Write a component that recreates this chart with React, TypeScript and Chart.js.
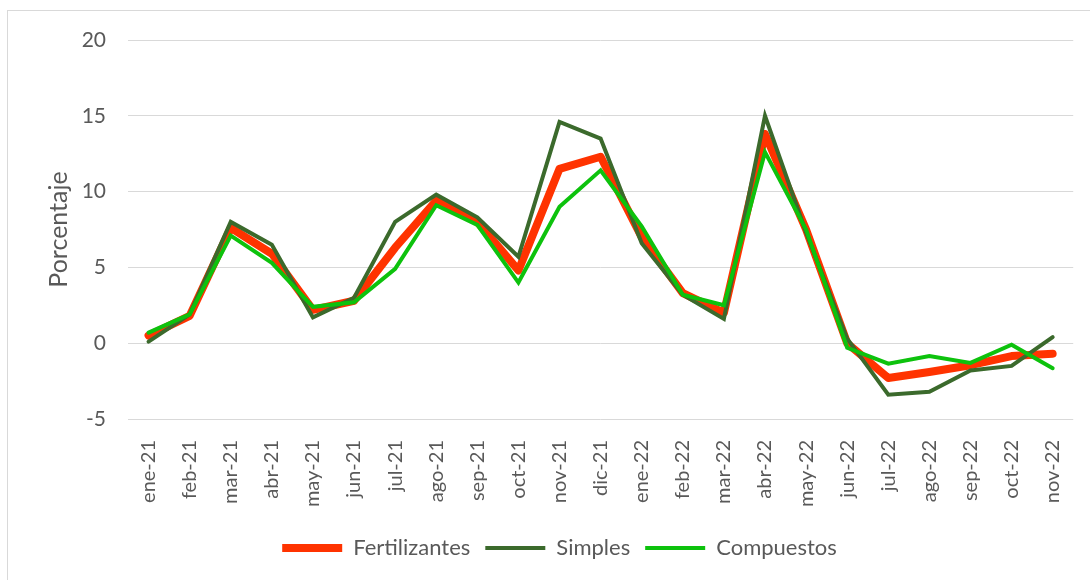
import React, { useEffect, useRef } from "react";
import { Chart, registerables } from "chart.js";

Chart.register(...registerables);

const categories = [
  "ene-21", "feb-21", "mar-21", "abr-21", "may-21", "jun-21", "jul-21", "ago-21",
  "sep-21", "oct-21", "nov-21", "dic-21", "ene-22", "feb-22", "mar-22", "abr-22",
  "may-22", "jun-22", "jul-22", "ago-22", "sep-22", "oct-22", "nov-22",
];

const fertilizantes = [0.5, 1.8, 7.6, 5.9, 2.2, 2.8, 6.3, 9.4, 8.0, 4.8, 11.5, 12.3, 7.0, 3.3, 2.0, 13.8, 7.5, 0.0, -2.3, -1.9, -1.45, -0.85, -0.7];
const simples = [0.1, 1.9, 8.0, 6.5, 1.7, 3.0, 8.0, 9.8, 8.3, 5.7, 14.6, 13.5, 6.6, 3.2, 1.6, 15.0, 7.3, 0.3, -3.4, -3.2, -1.8, -1.5, 0.4];
const compuestos = [0.7, 1.9, 7.1, 5.3, 2.4, 2.7, 4.9, 9.1, 7.8, 4.0, 9.0, 11.4, 7.7, 3.2, 2.5, 12.6, 7.5, -0.3, -1.35, -0.85, -1.3, -0.1, -1.65];

const yMin = -5;
const yMax = 20;
const yStep = 5;

const FONT = "Lato, 'Open Sans', sans-serif";
const TEXT = "#595959";

export default function App() {
  const ref = useRef<HTMLCanvasElement | null>(null);

  useEffect(() => {
    if (!ref.current) return;
    const chart = new Chart(ref.current, {
      type: "line",
      data: {
        labels: categories,
        datasets: [
          {
            label: "Fertilizantes",
            data: fertilizantes,
            borderColor: "#FF3300",
            backgroundColor: "#FF3300",
            borderWidth: 8,
            borderCapStyle: "round",
            borderJoinStyle: "round",
            pointRadius: 0,
            order: 3,
          },
          {
            label: "Simples",
            data: simples,
            borderColor: "#3B6A2C",
            backgroundColor: "#3B6A2C",
            borderWidth: 4,
            borderCapStyle: "round",
            pointRadius: 0,
            order: 2,
          },
          {
            label: "Compuestos",
            data: compuestos,
            borderColor: "#0DC20D",
            backgroundColor: "#0DC20D",
            borderWidth: 4,
            borderCapStyle: "round",
            pointRadius: 0,
            order: 1,
          },
        ],
      },
      options: {
        animation: false,
        responsive: false,
        layout: { padding: { left: 44, right: 15, top: 40, bottom: 11 } },
        plugins: {
          tooltip: { enabled: false },
          legend: {
            position: "bottom",
            labels: {
              usePointStyle: true,
              pointStyle: "line",
              pointStyleWidth: 60,
              boxHeight: 8,
              padding: 15,
              color: TEXT,
              font: { family: FONT, size: 22 },
              sort: (a: any, b: any) => a.datasetIndex - b.datasetIndex,
            },
          },
        },
        scales: {
          x: {
            offset: true,
            grid: { display: false },
            border: { display: false },
            ticks: {
              maxRotation: 90,
              minRotation: 90,
              autoSkip: false,
              padding: 13,
              color: TEXT,
              font: { family: FONT, size: 20 },
            },
            afterFit: (scale: any) => {
              scale.height = 103;
            },
          },
          y: {
            min: yMin,
            max: yMax,
            grid: { color: "#D9D9D9", lineWidth: 1, drawTicks: false },
            border: { display: false },
            ticks: {
              stepSize: yStep,
              padding: 22,
              color: TEXT,
              font: { family: FONT, size: 21 },
            },
            title: {
              display: true,
              text: "Porcentaje",
              color: TEXT,
              font: { family: FONT, size: 25 },
              padding: { top: 0, bottom: 0 },
            },
            afterFit: (scale: any) => {
              scale.width = 84;
            },
          },
        },
      },
    });
    return () => chart.destroy();
  }, []);

  return (
    <div style={{ position: "fixed", left: 0, top: 0, width: 1090, height: 580, overflow: "hidden", background: "#fff" }}>
      <div
        style={{
          position: "absolute",
          left: 7,
          top: 10,
          width: 1200,
          height: 700,
          borderLeft: "1px solid #D9D9D9",
          borderTop: "1px solid #D9D9D9",
        }}
      />
      <canvas ref={ref} width={1090} height={580} style={{ position: "absolute", left: 0, top: 0, width: 1090, height: 580 }} />
    </div>
  );
}
